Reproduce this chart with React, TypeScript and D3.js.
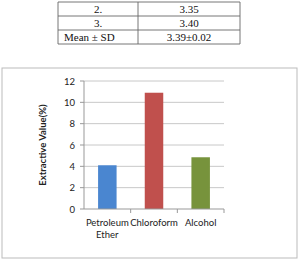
import React from 'react';
import * as d3 from 'd3';

const tableRows = [
  ['2.', '3.35'],
  ['3.', '3.40'],
  ['Mean ± SD', '3.39±0.02'],
];

const categories = ['Petroleum Ether', 'Chloroform', 'Alcohol'];
const values = [4.1, 10.9, 4.85];
const colors = ['#4a86d0', '#c0504d', '#77933c'];
const yTicks = [0, 2, 4, 6, 8, 10, 12];

export default function App() {
  const W = 300, H = 259;
  const x = d3.scaleBand().domain(categories).range([84, 224]).paddingInner(0).paddingOuter(0);
  const y = d3.scaleLinear().domain([0, 12]).range([209, 81]);
  const barW = 18.5;
  const font = 'Lato, sans-serif';

  const tx = [58, 138, 240];
  const ty = [2, 16, 30, 44];

  return (
    <svg width={W} height={H} style={{ position: 'absolute', left: 0, top: 0 }}>
      <rect width={W} height={H} fill="#fff" />
      {/* table */}
      <g fontFamily="Liberation Serif, serif" fontSize={11} fill="#111">
        {ty.map((v, i) => (
          <line key={'h' + i} x1={tx[0]} x2={tx[2]} y1={v} y2={v} stroke="#666" strokeWidth={0.9} />
        ))}
        {tx.map((v, i) => (
          <line key={'v' + i} x1={v} x2={v} y1={ty[0]} y2={ty[3]} stroke="#666" strokeWidth={0.9} />
        ))}
        {tableRows.map((r, i) => (
          <g key={i}>
            <text x={i === 2 ? 64 : (tx[0] + tx[1]) / 2} y={ty[i] + 11} textAnchor={i === 2 ? 'start' : 'middle'}>{r[0]}</text>
            <text x={(tx[1] + tx[2]) / 2} y={ty[i] + 11} textAnchor="middle">{r[1]}</text>
          </g>
        ))}
      </g>
      {/* chart frame */}
      <rect x={2} y={68} width={295} height={190} fill="none" stroke="#bbb" strokeWidth={1} />
      {/* gridlines */}
      {yTicks.map(t => (
        <g key={t}>
          {t > 0 && <line x1={84} x2={224} y1={y(t)} y2={y(t)} stroke="#c8c8c8" strokeWidth={1} />}
          <line x1={80} x2={84} y1={y(t)} y2={y(t)} stroke="#999" />
          <text x={75} y={y(t) + 3.5} textAnchor="end" fontFamily={font} fontSize={9.5} fill="#222">{t}</text>
        </g>
      ))}
      {/* bars */}
      {categories.map((c, i) => (
        <rect key={c} x={(x(c) as number) + x.bandwidth() / 2 - barW / 2} y={y(values[i])}
          width={barW} height={y(0) - y(values[i])} fill={colors[i]} />
      ))}
      {/* axes */}
      <line x1={84} x2={84} y1={81} y2={209} stroke="#999" />
      <line x1={84} x2={224} y1={209} y2={209} stroke="#999" />
      {categories.map((c, i) => (
        <line key={'t' + i} x1={(x(c) as number) + x.bandwidth()} x2={(x(c) as number) + x.bandwidth()} y1={209} y2={213} stroke="#999" />
      ))}
      {categories.map((c, i) => {
        const cx = (x(c) as number) + x.bandwidth() / 2;
        const parts = c === 'Petroleum Ether' ? ['Petroleum', 'Ether'] : [c];
        return (
          <text key={'l' + i} x={cx} y={226} textAnchor="middle" fontFamily={font} fontSize={9.5} fill="#222">
            {parts.map((p, j) => (
              <tspan key={j} x={cx} dy={j === 0 ? 0 : 11.5}>{p}</tspan>
            ))}
          </text>
        );
      })}
      <text transform="translate(46,145) rotate(-90)" textAnchor="middle" fontFamily={font} fontSize={9.5} fontWeight="bold" fill="#222">
        Extractive Value(%)
      </text>
    </svg>
  );
}
